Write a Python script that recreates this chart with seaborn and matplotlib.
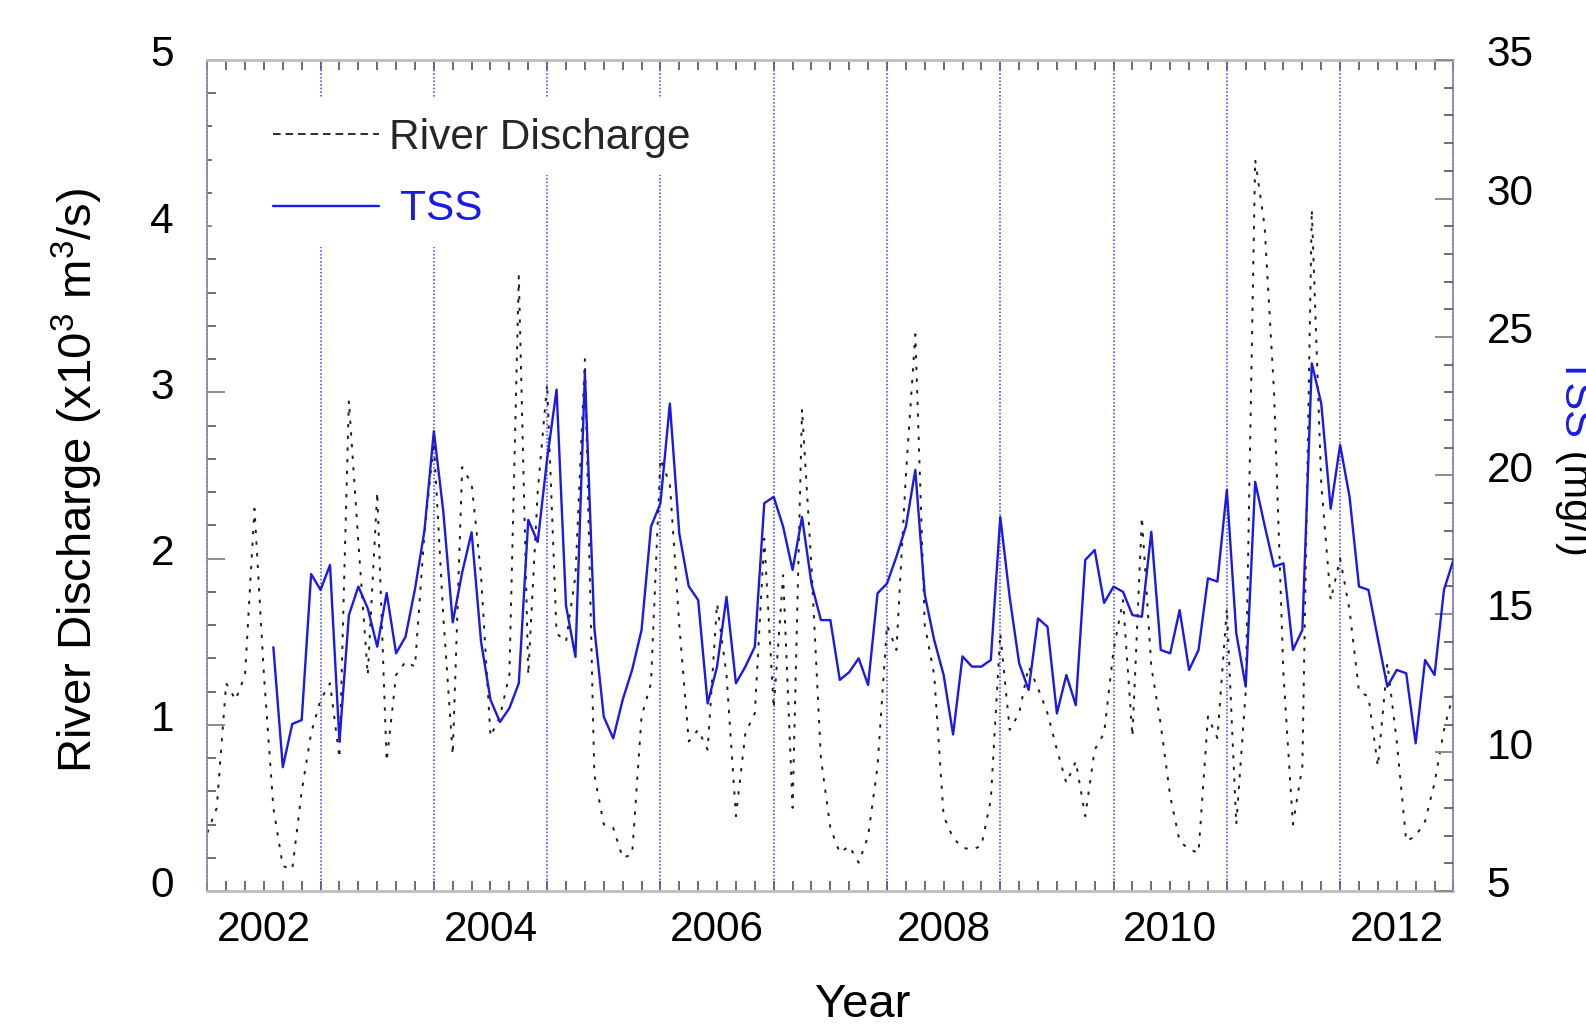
import numpy as np
import pandas as pd
import matplotlib
matplotlib.use("Agg")
import matplotlib.pyplot as plt
from matplotlib.lines import Line2D
from matplotlib.patches import Rectangle
from matplotlib.ticker import MultipleLocator, FixedLocator
import matplotlib.transforms as mtransforms
import seaborn as sns

# Monthly river discharge (10^3 m^3/s), January 2002 onwards
discharge = [
    0.35, 0.50, 1.25, 1.15, 1.30, 2.30, 1.30, 0.50, 0.15, 0.13, 0.60, 0.95,
    1.15, 1.25, 0.80, 2.95, 2.10, 1.30, 2.40, 0.78, 1.30, 1.38, 1.35, 2.15,
    2.70, 1.65, 0.82, 2.55, 2.45, 1.90, 0.93, 1.05, 1.30, 3.70, 1.30, 2.40,
    3.05, 1.55, 1.50, 1.90, 3.20, 0.70, 0.40, 0.38, 0.20, 0.22, 1.05, 1.25,
    2.60, 2.45, 1.60, 0.90, 0.97, 0.85, 1.73, 1.30, 0.45, 0.95, 1.07, 2.12,
    1.10, 1.90, 0.50, 2.90, 1.95, 0.80, 0.38, 0.23, 0.27, 0.17, 0.33, 0.75,
    1.60, 1.45, 2.50, 3.35, 1.60, 1.30, 0.45, 0.32, 0.26, 0.25, 0.27, 0.55,
    1.55, 0.97, 1.07, 1.35, 1.22, 1.07, 0.85, 0.65, 0.78, 0.45, 0.85, 0.95,
    1.45, 1.75, 0.93, 2.25, 1.35, 1.00, 0.57, 0.30, 0.25, 0.23, 1.05, 0.92,
    1.70, 0.40, 1.20, 4.40, 4.00, 3.00, 1.30, 0.40, 0.75, 4.10, 2.45, 1.75,
    2.00, 1.69, 1.20, 1.17, 0.75, 1.37, 0.90, 0.30, 0.33, 0.42, 0.65, 0.97,
    1.19,
]

# Monthly TSS (mg/l), August 2002 onwards
tss_first_month = 7
tss = [
    13.80, 9.47, 11.03, 11.17, 16.44,
    15.87, 16.77, 10.39, 14.96, 15.99, 15.20, 13.82, 15.76, 13.58, 14.18, 15.90, 18.00,
    21.60, 18.70, 14.70, 16.50, 17.95, 14.00, 11.90, 11.10, 11.60, 12.50, 18.40, 17.60,
    20.60, 23.10, 15.30, 13.45, 23.70, 14.50, 11.29, 10.51, 11.90, 12.98, 14.42, 18.15,
    19.00, 22.60, 17.90, 16.00, 15.50, 11.77, 13.10, 15.62, 12.50, 13.10, 13.82, 19.00,
    19.23, 18.15, 16.59, 18.50, 16.10, 14.78, 14.78, 12.62, 12.90, 13.40, 12.44, 15.75,
    16.10, 17.07, 18.15, 20.20, 15.70, 14.06, 12.80, 10.65, 13.47, 13.10, 13.10, 13.34,
    18.50, 15.60, 13.22, 12.26, 14.84, 14.54, 11.41, 12.80, 11.71, 16.95, 17.31, 15.40,
    15.99, 15.80, 14.96, 14.90, 17.97, 13.70, 13.58, 15.14, 12.98, 13.70, 16.29, 16.17,
    19.48, 14.30, 12.38, 19.77, 18.20, 16.71, 16.83, 13.70, 14.42, 24.05, 22.60, 18.80,
    21.10, 19.23, 15.99, 15.87, 14.10, 12.38, 12.98, 12.86, 10.33, 13.34, 12.80, 15.87,
    16.95,
]

year_labels = ["2002", "2004", "2006", "2008", "2010", "2012"]
year_label_pos = [2002.5, 2004.5, 2006.5, 2008.5, 2010.5, 2012.5]
year_bounds = list(range(2002, 2014))

sns.set_theme(style="white")
plt.rcParams["font.family"] = ["Liberation Sans", "DejaVu Sans"]
plt.rcParams["mathtext.fontset"] = "custom"
plt.rcParams["mathtext.rm"] = "Liberation Sans"
plt.rcParams["mathtext.it"] = "Liberation Sans:italic"
plt.rcParams["mathtext.default"] = "regular"
plt.rcParams["lines.scale_dashes"] = False

BLUE = "#1a1ae6"
VBLUE = "#4d4dff"
TICK_FS = 30.5
LABEL_FS = 34

df_dis = pd.DataFrame({
    "Year": 2002 + np.arange(len(discharge)) / 12.0,
    "Discharge": discharge,
})
df_tss = pd.DataFrame({
    "Year": 2002 + (tss_first_month + np.arange(len(tss))) / 12.0,
    "TSS": tss,
})

fig = plt.figure(figsize=(15.86, 10.24), dpi=100)
ax = fig.add_axes([0.1307, 0.1299, 0.7857, 0.8115])

# year boundaries
for yr in year_bounds:
    ax.axvline(yr, color=VBLUE, lw=1.15, ls=(0, (1.2, 1.4)), zorder=1.2, clip_on=False)

# white backing behind the legend rows
ax.add_patch(Rectangle((0.004, 0.8616), 0.391, 0.0939, transform=ax.transAxes,
                       facecolor="white", edgecolor="none", zorder=1.5))
ax.add_patch(Rectangle((0.004, 0.7750), 0.231, 0.0866, transform=ax.transAxes,
                       facecolor="white", edgecolor="none", zorder=1.5))

sns.lineplot(data=df_dis, x="Year", y="Discharge", ax=ax, color="#1e1e1e",
             lw=1.4, linestyle=(0, (2.4, 6.0)), errorbar=None, zorder=2)

ax2 = ax.twinx()
sns.lineplot(data=df_tss, x="Year", y="TSS", ax=ax2, color=BLUE, lw=1.7,
             errorbar=None, zorder=3)

ax.set_xlim(2002, 2013)
ax.set_ylim(0, 5)
ax2.set_ylim(5, 35)

# x axis: year labels at mid-year, ticks every two months
ax.xaxis.set_major_locator(FixedLocator(year_label_pos))
ax.set_xticklabels(year_labels)
ax.xaxis.set_minor_locator(MultipleLocator(1 / 6))
ax.xaxis.remove_overlapping_locs = False
ax.tick_params(axis="x", which="major", length=0, pad=14, labelsize=TICK_FS,
               top=True, bottom=True, labelcolor="black")
ax.tick_params(axis="x", which="minor", direction="in", length=7, width=1.2,
               color="#555555", top=True, bottom=True)

ax.yaxis.set_major_locator(MultipleLocator(1))
ax.yaxis.set_minor_locator(MultipleLocator(0.2))
ax.tick_params(axis="y", which="major", direction="in", length=13, width=1.4,
               color="#8c8c8c", left=True, right=False, labelsize=TICK_FS, pad=24,
               labelcolor="black")
ax.tick_params(axis="y", which="minor", direction="in", length=6.5, width=1.2,
               color="#555555", left=True, right=False)

ax2.yaxis.set_major_locator(MultipleLocator(5))
ax2.yaxis.set_minor_locator(MultipleLocator(1))
ax2.tick_params(axis="y", which="major", direction="in", length=13, width=1.4,
                color="#8c8c8c", right=True, left=False, labelsize=TICK_FS, pad=24,
                labelcolor="black")
ax2.tick_params(axis="y", which="minor", direction="in", length=6.5, width=1.2,
                color="#555555", right=True, left=False)

for side in ["top", "bottom"]:
    ax.spines[side].set_color("#bdbdbd")
    ax.spines[side].set_linewidth(2.0)
for side in ["left", "right"]:
    ax.spines[side].set_color("#8888aa")
    ax.spines[side].set_linewidth(1.2)
for s in ax2.spines.values():
    s.set_visible(False)

ax.set_xlabel("Year", fontsize=LABEL_FS, color="black")
ax.xaxis.set_label_coords(0.526, -0.111)
ax.set_ylabel("River Discharge (x10$^3$ m$^3$/s)", fontsize=LABEL_FS, color="black")
ax.yaxis.set_label_coords(-0.082, 0.494)
ax2.set_ylabel("")

# legend
h_dis = Line2D([], [], color="#1e1e1e", lw=1.3, linestyle=(0, (5.5, 3.5)))
h_tss = Line2D([], [], color=BLUE, lw=1.7)
leg = ax2.legend([h_dis, h_tss], ["River Discharge", " TSS"], loc="upper left",
                 bbox_to_anchor=(0.0527, 0.9301), frameon=False, fontsize=TICK_FS,
                 handlelength=2.5, handletextpad=0.25, labelspacing=0.74,
                 borderpad=0, borderaxespad=0)
leg.get_texts()[1].set_color(BLUE)

# right axis title in two colours, rotated
RIGHT_FS = 30
t1 = fig.text(0.986, 1 - 357 / 1024, "TSS", color=BLUE, fontsize=RIGHT_FS,
              rotation=270, rotation_mode="anchor", ha="left", va="baseline")
fig.canvas.draw()
bb = t1.get_window_extent()
fig.text(0.986, bb.y0 / fig.bbox.height, " (mg/l)", color="black", fontsize=RIGHT_FS,
         rotation=270, rotation_mode="anchor", ha="left", va="baseline")

# lift the y tick labels slightly above their ticks
lift = mtransforms.ScaledTranslation(0, 6.5 / 72, fig.dpi_scale_trans)
for lab in ax.get_yticklabels() + ax2.get_yticklabels():
    lab.set_transform(lab.get_transform() + lift)

fig.savefig("out.png", dpi=100)
